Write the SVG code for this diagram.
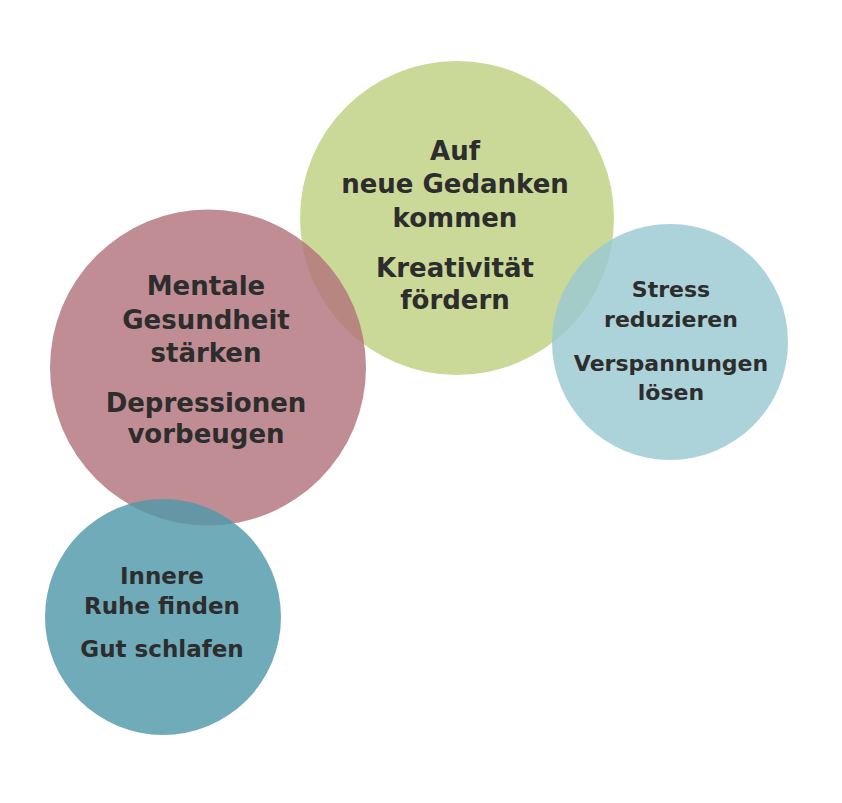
<svg xmlns="http://www.w3.org/2000/svg" width="842" height="803" viewBox="0 0 842 803">
<style>
.t{font-family:"DejaVu Sans","Liberation Sans",sans-serif;font-weight:700;fill:#2d2d2d;text-anchor:middle}
.l{font-size:26px}
.s{font-size:22px}
.m{font-size:23px}
</style>
<rect width="842" height="803" fill="#ffffff"/>
<g id="kreativitaet">
<circle cx="457" cy="218" r="157" fill="#cad997"/>
<text class="t l" x="455" y="160">Auf</text>
<text class="t l" x="455" y="193">neue Gedanken</text>
<text class="t l" x="455" y="227">kommen</text>
<text class="t l" x="455" y="277">Kreativität</text>
<text class="t l" x="455" y="309">fördern</text>
</g>
<g id="mentale">
<circle cx="208" cy="367.5" r="158" fill="#b2717b" fill-opacity="0.8"/>
<text class="t l" x="206" y="295">Mentale</text>
<text class="t l" x="206" y="329">Gesundheit</text>
<text class="t l" x="206" y="362">stärken</text>
<text class="t l" x="206" y="412">Depressionen</text>
<text class="t l" x="206" y="443">vorbeugen</text>
</g>
<g id="stress">
<circle cx="670" cy="342" r="118" fill="#9ac8d2" fill-opacity="0.82"/>
<text class="t s" x="671" y="297">Stress</text>
<text class="t s" x="671" y="327">reduzieren</text>
<text class="t s" x="671" y="371">Verspannungen</text>
<text class="t s" x="671" y="400">lösen</text>
</g>
<g id="ruhe">
<circle cx="163" cy="617" r="118" fill="#5099aa" fill-opacity="0.82"/>
<text class="t m" x="162" y="584">Innere</text>
<text class="t m" x="162" y="614">Ruhe finden</text>
<text class="t m" x="162" y="657">Gut schlafen</text>
</g>
<g id="connectors"></g>
</svg>
